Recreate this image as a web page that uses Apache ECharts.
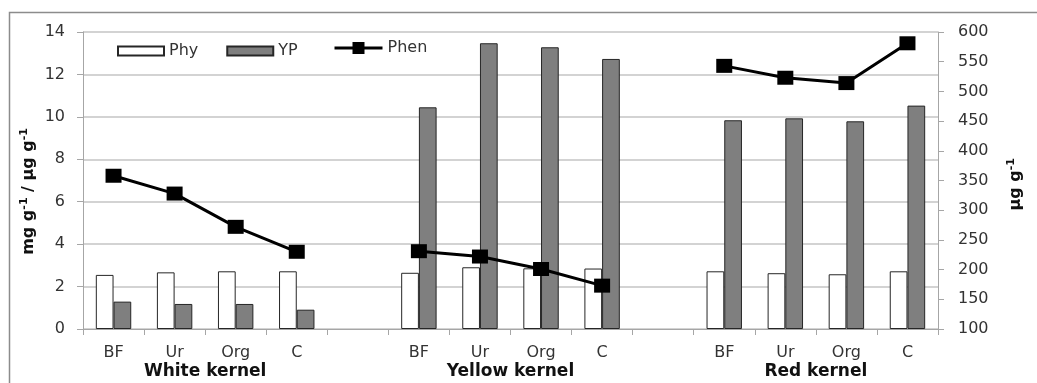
<!DOCTYPE html>
<html>
<head>
<meta charset="utf-8">
<script src="https://cdn.jsdelivr.net/npm/echarts@6/dist/echarts.min.js"></script>
<style>
html,body{margin:0;padding:0;background:#fff;}
#chart{width:1037px;height:383px;}
</style>
</head>
<body>
<div id="chart"></div>
<script>
// ---- data ----
const categories = ['BF','Ur','Org','C','', 'BF','Ur','Org','C','', 'BF','Ur','Org','C'];
const groupLabels = {2: 'White kernel', 7: 'Yellow kernel', 12: 'Red kernel'};
const phy  = [2.55, 2.67, 2.72, 2.72, null, 2.65, 2.91, 2.86, 2.85, null, 2.72, 2.63, 2.58, 2.72];
const yp   = [1.29, 1.18, 1.18, 0.91, null, 10.45, 13.47, 13.28, 12.73, null, 9.84, 9.93, 9.79, 10.53];
const phen = [358, 328, 272, 230, null, 231, 222, 201, 173, null, 543, 523, 514, 581];
const leftTicks = {min: 0, max: 14, interval: 2};
const rightTicks = {min: 100, max: 600, interval: 50};

const FONT = 'DejaVu Sans';
const chart = echarts.init(document.getElementById('chart'), null, {renderer: 'canvas'});
const axisGray = '#a6a6a6';

chart.setOption({
  animation: false,
  backgroundColor: '#fff',
  textStyle: {fontFamily: FONT},
  grid: {left: 83, right: 99, top: 32, bottom: 54, containLabel: false},
  legend: [
    {
      left: 112, top: 38,
      itemWidth: 46, itemHeight: 9, itemGap: 28,
      textStyle: {fontFamily: FONT, fontSize: 16, color: '#333'},
      data: [
        {name: 'Phy', icon: 'rect'},
        {name: 'YP', icon: 'rect'}
      ]
    },
    {
      left: 328, top: 35,
      itemWidth: 48, itemHeight: 15, itemGap: 28,
      textStyle: {fontFamily: FONT, fontSize: 16, color: '#333'},
      data: [
        {name: 'Phen', lineStyle: {width: 3, color: '#000'}}
      ]
    }
  ],
  xAxis: [
    {
      type: 'category', data: categories, position: 'bottom',
      axisLine: {lineStyle: {color: axisGray, width: 1}},
      axisTick: {show: true, alignWithLabel: false, length: 6, inside: false, lineStyle: {color: axisGray}},
      axisLabel: {interval: 0, margin: 16, fontFamily: FONT, fontSize: 16, color: '#333'},
      splitLine: {show: false}
    },
    {
      type: 'value', min: 0, max: 14, interval: 1, position: 'bottom', offset: 0,
      gridIndex: 0,
      axisLine: {show: false}, axisTick: {show: false}, splitLine: {show: false},
      axisLabel: {
        show: true, margin: 34, fontFamily: FONT, fontSize: 17, fontWeight: 'bold', color: '#111',
        formatter: v => groupLabels[v] || ''
      }
    }
  ],
  yAxis: [
    {
      type: 'value', min: leftTicks.min, max: leftTicks.max, interval: leftTicks.interval,
      axisLine: {show: true, lineStyle: {color: axisGray}},
      axisTick: {show: true, length: 6, lineStyle: {color: axisGray}},
      axisLabel: {margin: 18, fontFamily: FONT, fontSize: 16, color: '#333'},
      splitLine: {show: true, lineStyle: {color: '#c4c4c4', width: 1.5}}
    },
    {
      type: 'value', min: rightTicks.min, max: rightTicks.max, interval: rightTicks.interval,
      position: 'right',
      axisLine: {show: true, lineStyle: {color: axisGray}},
      axisTick: {show: true, length: 6, lineStyle: {color: axisGray}},
      axisLabel: {margin: 20, fontFamily: FONT, fontSize: 16, color: '#333'},
      splitLine: {show: false}
    }
  ],
  series: [
    {
      name: 'Phy', type: 'bar', data: phy, xAxisIndex: 0, yAxisIndex: 0,
      barGap: '0%', barCategoryGap: '42%',
      itemStyle: {color: '#ffffff', borderColor: '#262626', borderWidth: 1}
    },
    {
      name: 'YP', type: 'bar', data: yp, xAxisIndex: 0, yAxisIndex: 0,
      barGap: '0%', barCategoryGap: '42%',
      itemStyle: {color: '#7f7f7f', borderColor: '#262626', borderWidth: 1}
    },
    {
      name: 'Phen', type: 'line', data: phen, xAxisIndex: 0, yAxisIndex: 1,
      connectNulls: false, z: 5,
      symbol: 'rect', symbolSize: [16, 14],
      lineStyle: {color: '#000', width: 3},
      itemStyle: {color: '#000'}
    }
  ],
  graphic: [
    {
      type: 'rect', silent: true, z: -1,
      shape: {x: 9.5, y: 12.5, width: 1200, height: 600},
      style: {fill: null, stroke: '#8c8c8c', lineWidth: 1.5}
    },
    {
      type: 'text', left: 19, top: 128, rotation: Math.PI / 2, silent: true,
      style: {
        text: 'mg g{sup|-1} / µg g{sup|-1}',
        fontFamily: FONT, fontSize: 16, fontWeight: 'bold', fill: '#111',
        rich: {sup: {fontFamily: FONT, fontSize: 11, fontWeight: 'bold', fill: '#111', verticalAlign: 'top', padding: [0, 0, 8, 0]}}
      }
    },
    {
      type: 'text', left: 1006, top: 158, rotation: Math.PI / 2, silent: true,
      style: {
        text: 'µg g{sup|-1}',
        fontFamily: FONT, fontSize: 16, fontWeight: 'bold', fill: '#111',
        rich: {sup: {fontFamily: FONT, fontSize: 11, fontWeight: 'bold', fill: '#111', verticalAlign: 'top', padding: [0, 0, 8, 0]}}
      }
    }
  ]
});
</script>
</body>
</html>
